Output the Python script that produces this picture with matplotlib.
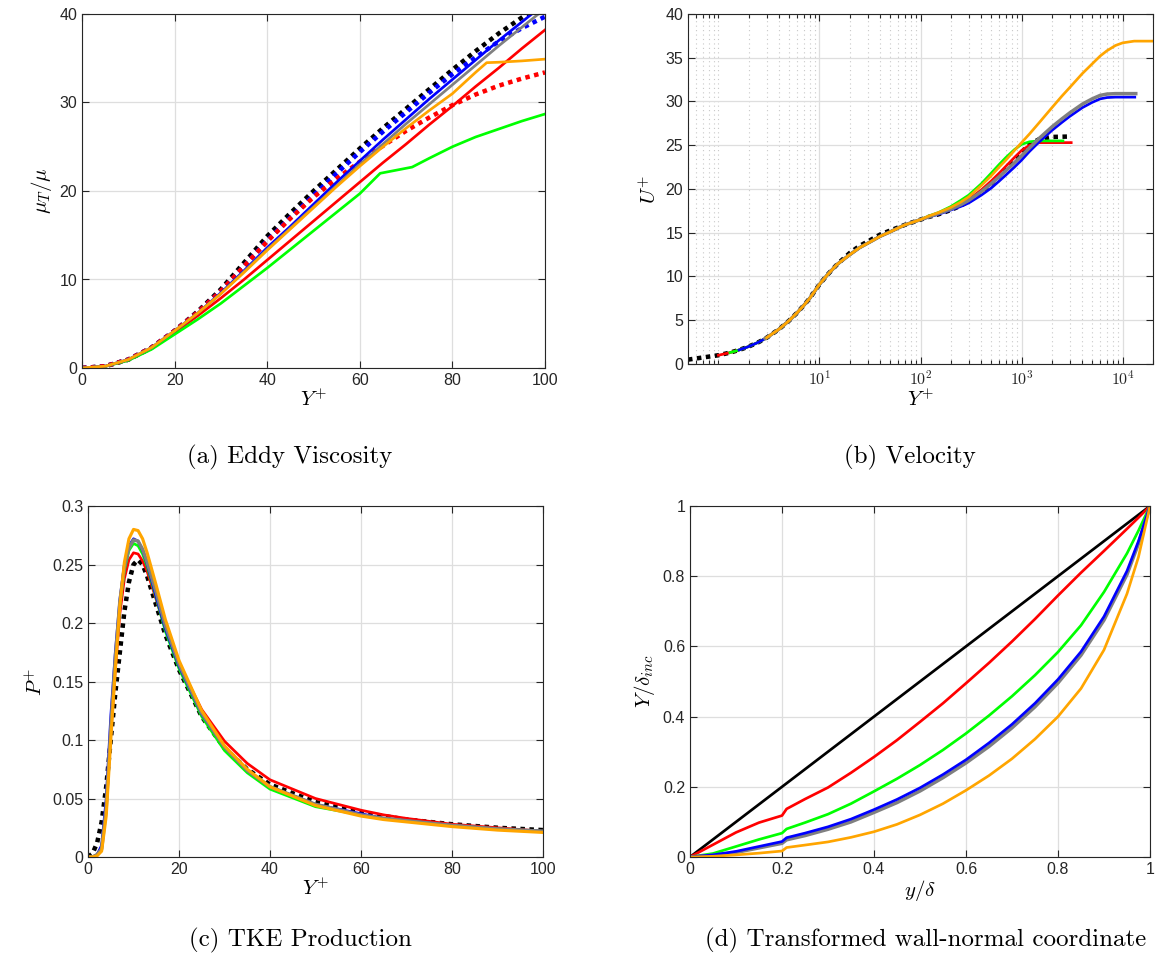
import matplotlib
matplotlib.use('Agg')
import matplotlib.pyplot as plt
from matplotlib.ticker import FixedLocator, LogLocator, NullFormatter

plt.rcParams['mathtext.fontset'] = 'cm'
plt.rcParams['font.family'] = ['Liberation Sans', 'DejaVu Sans']

# ---------------- colours ----------------
C_BLACK = 'black'
C_RED = '#ff0000'
C_GREEN = '#00ff00'
C_BLUE = '#0000ff'
C_GRAY = '#808080'
C_ORANGE = '#ffa500'

# ---------------- (a) eddy viscosity ----------------
a_x = [0, 5, 10, 15, 20, 25, 30, 35, 40, 45, 50, 55, 60, 65, 70, 75, 80, 85, 90, 95, 100]
a_black_dot = [0, 0.2, 0.95, 2.3, 4.2, 6.4, 8.9, 11.9, 14.9, 17.5, 20.0, 22.4, 24.8, 27.1, 29.3, 31.5, 33.7, 35.8, 37.8, 39.6, 41.4]
a_blue_dot = [0, 0.2, 0.95, 2.3, 4.2, 6.3, 8.7, 11.5, 14.4, 17.0, 19.5, 22.0, 24.4, 26.7, 28.9, 31.1, 33.2, 35.1, 36.9, 38.4, 39.7]
a_red_dot = [0, 0.2, 0.95, 2.3, 4.2, 6.3, 8.7, 11.5, 14.3, 16.9, 19.3, 21.4, 23.3, 25.1, 26.8, 28.3, 29.7, 30.9, 31.9, 32.7, 33.4]
a_red = [0, 0.18, 0.9, 2.2, 4.0, 5.9, 7.9, 10.0, 12.2, 14.4, 16.6, 18.8, 21.0, 23.2, 25.3, 27.5, 29.6, 31.8, 33.9, 36.1, 38.2]
a_blue = [0, 0.2, 0.95, 2.3, 4.2, 6.2, 8.5, 11.0, 13.6, 16.0, 18.5, 21.0, 23.4, 25.8, 28.1, 30.4, 32.6, 34.8, 37.0, 39.1, 41.2]
a_gray = [0, 0.2, 0.95, 2.3, 4.2, 6.2, 8.4, 10.9, 13.4, 15.8, 18.2, 20.6, 23.0, 25.3, 27.6, 29.8, 32.0, 34.2, 36.4, 38.5, 40.6]
a_orange_x = [0, 5, 10, 15, 20, 25, 30, 35, 40, 45, 50, 55, 60, 65, 70, 75, 80, 85, 87.4, 90, 95, 100]
a_orange = [0, 0.2, 0.95, 2.3, 4.2, 6.2, 8.4, 10.8, 13.3, 15.7, 18.1, 20.5, 22.8, 25.0, 27.1, 29.1, 31.0, 33.4, 34.5, 34.55, 34.7, 34.9]
a_green_x = [0, 5, 10, 15, 20, 25, 30, 35, 40, 45, 50, 55, 60, 64.4, 71.3, 75, 80, 85, 90, 95, 100]
a_green = [0, 0.18, 0.85, 2.1, 3.8, 5.5, 7.3, 9.3, 11.3, 13.4, 15.5, 17.6, 19.7, 22.0, 22.7, 23.7, 25.0, 26.1, 27.0, 27.9, 28.7]

# ---------------- (b) velocity ----------------
b_common_x = [0.5, 1, 1.3, 1.6, 2, 2.5, 2.9, 3, 4, 5, 6, 7, 8, 10, 12, 15, 20, 25, 30, 40, 50, 70, 100]
b_common = [0.5, 1.0, 1.3, 1.6, 2.0, 2.5, 2.9, 3.0, 4.0, 4.95, 5.85, 6.7, 7.5, 9.1, 10.2, 11.4, 12.5, 13.3, 13.8, 14.6, 15.1, 15.9, 16.5]
b_black_offset_x = [20, 25, 30, 40, 50]
b_black_offset = [0.2, 0.2, 0.2, 0.2, 0.15]
b_black_x = [120, 150, 200, 250, 300, 400, 500, 600, 700, 850, 1000, 1200, 1500, 2000, 3100]
b_black = [16.8, 17.1, 17.6, 18.1, 18.6, 19.6, 20.6, 21.5, 22.3, 23.3, 24.2, 25.1, 25.7, 25.95, 26.0]
b_red_x = [120, 150, 200, 250, 300, 400, 500, 600, 700, 850, 1000, 1200, 1500, 2000, 3100]
b_red = [16.8, 17.2, 17.8, 18.3, 18.8, 19.9, 20.9, 21.8, 22.6, 23.6, 24.4, 25.0, 25.3, 25.3, 25.3]
b_green_x = [120, 150, 200, 250, 300, 400, 500, 600, 700, 850, 1000, 1200, 1500, 2570]
b_green = [16.9, 17.3, 18.0, 18.7, 19.3, 20.6, 21.8, 22.8, 23.6, 24.5, 25.1, 25.4, 25.5, 25.5]
b_gray_x = [120, 150, 200, 250, 300, 400, 500, 600, 700, 850, 1000, 1200, 1500, 2000, 2500, 3000, 4000, 5000, 6000, 7000, 8500, 13500]
b_gray = [16.8, 17.2, 17.7, 18.2, 18.7, 19.7, 20.6, 21.4, 22.1, 23.0, 23.8, 24.7, 25.8, 27.1, 28.0, 28.7, 29.7, 30.3, 30.7, 30.85, 30.9, 30.9]
b_blue_x = [120, 150, 200, 250, 300, 400, 500, 600, 700, 850, 1000, 1200, 1500, 2000, 2500, 3000, 4000, 5000, 6000, 7000, 8500, 13200]
b_blue = [16.8, 17.1, 17.6, 18.0, 18.4, 19.3, 20.1, 20.9, 21.6, 22.5, 23.3, 24.3, 25.4, 26.7, 27.6, 28.3, 29.3, 29.9, 30.3, 30.45, 30.5, 30.5]
b_orange_x = [120, 150, 200, 250, 300, 400, 500, 600, 700, 850, 1000, 1200, 1500, 2000, 2500, 3000, 4000, 5000, 6000, 7000, 8500, 10000, 13000, 20000]
b_orange = [16.9, 17.3, 17.9, 18.5, 19.1, 20.4, 21.5, 22.5, 23.3, 24.4, 25.3, 26.3, 27.6, 29.3, 30.6, 31.6, 33.2, 34.3, 35.2, 35.8, 36.4, 36.7, 36.9, 36.9]
b_start = {'black': 0.5, 'red': 1.0, 'green': 1.3, 'blue': 1.6, 'gray': 2.9, 'orange': 3.0}
b_xticks = [10, 100, 1000, 10000]
b_xticklabels = [r'$\mathsf{10^{1}}$', r'$\mathsf{10^{2}}$', r'$\mathsf{10^{3}}$', r'$\mathsf{10^{4}}$']

# ---------------- (c) TKE production ----------------
c_x = [0, 1, 2, 3, 4, 5, 6, 7, 8, 9, 10, 11, 12, 13, 15, 17, 20, 25, 30, 35, 40, 50, 60, 65, 70, 80, 90, 100]
c_black_dot = [0, 0.003, 0.012, 0.03, 0.06, 0.1, 0.14, 0.175, 0.21, 0.235, 0.25, 0.254, 0.25, 0.24, 0.215, 0.19, 0.16, 0.12, 0.093, 0.075, 0.062, 0.047, 0.038, 0.035, 0.032, 0.028, 0.025, 0.023]
c_red = [0, 0, 0.002, 0.008, 0.04, 0.105, 0.16, 0.208, 0.238, 0.254, 0.26, 0.259, 0.253, 0.244, 0.22, 0.195, 0.165, 0.126, 0.099, 0.08, 0.066, 0.05, 0.04, 0.036, 0.033, 0.028, 0.025, 0.022]
c_green = [0, 0, 0.002, 0.008, 0.042, 0.11, 0.168, 0.215, 0.245, 0.262, 0.268, 0.266, 0.259, 0.248, 0.221, 0.193, 0.161, 0.12, 0.091, 0.072, 0.058, 0.043, 0.036, 0.033, 0.031, 0.027, 0.024, 0.022]
c_blue = [0, 0, 0.002, 0.01, 0.05, 0.12, 0.175, 0.22, 0.25, 0.266, 0.272, 0.27, 0.262, 0.25, 0.222, 0.195, 0.163, 0.122, 0.094, 0.074, 0.06, 0.045, 0.037, 0.033, 0.031, 0.027, 0.024, 0.022]
c_gray = [0, 0, 0.002, 0.007, 0.042, 0.11, 0.17, 0.218, 0.248, 0.264, 0.271, 0.27, 0.263, 0.252, 0.226, 0.198, 0.165, 0.123, 0.094, 0.074, 0.06, 0.045, 0.036, 0.033, 0.031, 0.027, 0.024, 0.022]
c_orange = [0, 0, 0.001, 0.005, 0.035, 0.1, 0.16, 0.215, 0.252, 0.272, 0.28, 0.279, 0.272, 0.26, 0.232, 0.203, 0.168, 0.125, 0.095, 0.075, 0.06, 0.044, 0.035, 0.032, 0.03, 0.026, 0.023, 0.021]

# ---------------- (d) transformed coordinate ----------------
d_x = [0, 0.05, 0.1, 0.15, 0.2, 0.21, 0.25, 0.3, 0.35, 0.4, 0.45, 0.5, 0.55, 0.6, 0.65, 0.7, 0.75, 0.8, 0.85, 0.9, 0.95, 0.975, 1.0]
d_black_x = [0, 1.0]
d_black = [0, 1.0]
d_red = [0, 0.035, 0.07, 0.098, 0.118, 0.137, 0.165, 0.198, 0.24, 0.285, 0.333, 0.385, 0.438, 0.495, 0.553, 0.614, 0.678, 0.745, 0.81, 0.872, 0.935, 0.967, 1.0]
d_green = [0, 0.01, 0.03, 0.05, 0.068, 0.08, 0.098, 0.122, 0.152, 0.187, 0.223, 0.262, 0.305, 0.352, 0.403, 0.458, 0.518, 0.584, 0.66, 0.755, 0.865, 0.93, 1.0]
d_blue = [0, 0.006, 0.016, 0.03, 0.044, 0.055, 0.068, 0.086, 0.108, 0.135, 0.164, 0.197, 0.235, 0.277, 0.325, 0.378, 0.438, 0.506, 0.585, 0.685, 0.815, 0.9, 1.0]
d_gray = [0, 0.005, 0.013, 0.026, 0.039, 0.049, 0.061, 0.079, 0.1, 0.127, 0.155, 0.188, 0.226, 0.268, 0.315, 0.368, 0.428, 0.496, 0.575, 0.675, 0.805, 0.893, 1.0]
d_orange = [0, 0.002, 0.006, 0.011, 0.017, 0.027, 0.034, 0.043, 0.056, 0.072, 0.093, 0.12, 0.152, 0.19, 0.232, 0.28, 0.336, 0.40, 0.48, 0.59, 0.75, 0.855, 1.0]

captions = ['(a) Eddy Viscosity', '(b) Velocity', '(c) TKE Production',
            '(d) Transformed wall-normal coordinate']

TICK_COLOR = '#262626'
DOT = (0, (1, 1))
LW = 2.7      # solid line width, px
LW_DOT = 4.5  # dotted line width, px
LW_GRAY = 3.5


def style(ax):
    ax.tick_params(direction='in', which='both', top=True, right=True,
                   labelsize=11.5, colors=TICK_COLOR, length=5, width=0.8)
    ax.tick_params(which='minor', length=3)
    for s in ax.spines.values():
        s.set_color(TICK_COLOR)
        s.set_linewidth(0.8)
    ax.grid(True, which='major', color='#dedede', linewidth=0.9)
    ax.set_axisbelow(True)


def W(px):
    return px * 72.0 / 100.0


fig = plt.figure(figsize=(11.58, 9.63), dpi=100)
FW, FH = 1158.0, 963.0


def axes_px(x0, y0, x1, y1):
    return fig.add_axes([x0 / FW, 1 - y1 / FH, (x1 - x0) / FW, (y1 - y0) / FH])


def caption(xc, yc, txt):
    fig.text(xc / FW, 1 - yc / FH, txt, fontsize=18, family='cmr10',
             ha='center', va='center')


# ---- (a)
ax = axes_px(82, 14, 545, 368)
style(ax)
ax.plot(a_x, a_black_dot, color=C_BLACK, lw=W(LW_DOT), linestyle=DOT, dash_capstyle='butt')
ax.plot(a_x, a_blue_dot, color=C_BLUE, lw=W(LW_DOT), linestyle=DOT, dash_capstyle='butt')
ax.plot(a_x, a_red_dot, color=C_RED, lw=W(LW_DOT), linestyle=DOT, dash_capstyle='butt')
ax.plot(a_x, a_red, color=C_RED, lw=W(LW))
ax.plot(a_green_x, a_green, color=C_GREEN, lw=W(LW))
ax.plot(a_x, a_blue, color=C_BLUE, lw=W(LW))
ax.plot(a_x, a_gray, color=C_GRAY, lw=W(LW))
ax.plot(a_orange_x, a_orange, color=C_ORANGE, lw=W(LW))
ax.set_xlim(0, 100)
ax.set_ylim(0, 40)
ax.set_xticks([0, 20, 40, 60, 80, 100])
ax.set_yticks([0, 10, 20, 30, 40])
ax.set_xlabel(r'$Y^{+}$', fontsize=15, labelpad=1)
ax.set_ylabel(r'$\mu_T/\mu$', fontsize=15, labelpad=4)
caption(290, 457, captions[0])

# ---- (b)
ax = axes_px(688, 14, 1153, 364)
style(ax)
ax.set_xscale('log')


def common_part(start, offx=None, offy=None):
    xs, ys = [], []
    for v, u in zip(b_common_x, b_common):
        if v >= start:
            if offx is not None and v in offx:
                u = u + offy[offx.index(v)]
            xs.append(v)
            ys.append(u)
    return xs, ys


cx, cy = common_part(b_start['black'], b_black_offset_x, b_black_offset)
ax.plot(cx + b_black_x, cy + b_black, color=C_BLACK, lw=W(LW_DOT), linestyle=DOT, dash_capstyle='butt')
for name, col, xs, ys, lw in [('red', C_RED, b_red_x, b_red, LW),
                              ('green', C_GREEN, b_green_x, b_green, LW),
                              ('blue', C_BLUE, b_blue_x, b_blue, LW),
                              ('gray', C_GRAY, b_gray_x, b_gray, LW_GRAY),
                              ('orange', C_ORANGE, b_orange_x, b_orange, LW)]:
    cx, cy = common_part(b_start[name])
    ax.plot(cx + xs, cy + ys, color=col, lw=W(lw))
ax.set_xlim(0.5, 2e4)
ax.set_ylim(0, 40)
ax.xaxis.set_major_locator(FixedLocator(b_xticks))
ax.set_xticklabels(b_xticklabels)
ax.xaxis.set_minor_locator(LogLocator(base=10, subs=[1, 2, 3, 4, 5, 6, 7, 8, 9], numticks=20))
ax.xaxis.set_minor_formatter(NullFormatter())
ax.grid(True, which='minor', axis='x', color='#c8c8c8', linestyle=(0, (1, 3)), linewidth=0.8)
ax.set_yticks(range(0, 41, 5))
ax.set_xlabel(r'$Y^{+}$', fontsize=15, labelpad=1)
ax.set_ylabel(r'$U^{+}$', fontsize=15, labelpad=4)
caption(910, 457, captions[1])

# ---- (c)
ax = axes_px(88, 506, 543, 857)
style(ax)
ax.plot(c_x, c_black_dot, color=C_BLACK, lw=W(LW_DOT), linestyle=DOT, dash_capstyle='butt')
ax.plot(c_x, c_red, color=C_RED, lw=W(LW))
ax.plot(c_x, c_green, color=C_GREEN, lw=W(LW))
ax.plot(c_x, c_blue, color=C_BLUE, lw=W(LW))
ax.plot(c_x, c_gray, color=C_GRAY, lw=W(LW_GRAY))
ax.plot(c_x, c_orange, color=C_ORANGE, lw=W(LW + 0.4))
ax.set_xlim(0, 100)
ax.set_ylim(0, 0.3)
ax.set_xticks([0, 20, 40, 60, 80, 100])
ax.set_yticks([0, 0.05, 0.1, 0.15, 0.2, 0.25, 0.3])
ax.set_yticklabels(['0', '0.05', '0.1', '0.15', '0.2', '0.25', '0.3'])
ax.set_xlabel(r'$Y^{+}$', fontsize=15, labelpad=1)
ax.set_ylabel(r'$P^{+}$', fontsize=15, labelpad=4)
caption(300, 940, captions[2])

# ---- (d)
ax = axes_px(690, 506, 1150, 857)
style(ax)
ax.plot(d_black_x, d_black, color=C_BLACK, lw=W(LW))
ax.plot(d_x, d_red, color=C_RED, lw=W(LW))
ax.plot(d_x, d_green, color=C_GREEN, lw=W(LW))
ax.plot(d_x, d_gray, color=C_GRAY, lw=W(LW_GRAY))
ax.plot(d_x, d_blue, color=C_BLUE, lw=W(LW))
ax.plot(d_x, d_orange, color=C_ORANGE, lw=W(LW))
ax.set_xlim(0, 1)
ax.set_ylim(0, 1)
ax.set_xticks([0, 0.2, 0.4, 0.6, 0.8, 1])
ax.set_xticklabels(['0', '0.2', '0.4', '0.6', '0.8', '1'])
ax.set_yticks([0, 0.2, 0.4, 0.6, 0.8, 1])
ax.set_yticklabels(['0', '0.2', '0.4', '0.6', '0.8', '1'])
ax.set_xlabel(r'$y/\delta$', fontsize=15, labelpad=1)
ax.set_ylabel(r'$Y/\delta_{inc}$', fontsize=15, labelpad=4)
caption(926, 940, captions[3])

fig.savefig('out.png', dpi=100)
